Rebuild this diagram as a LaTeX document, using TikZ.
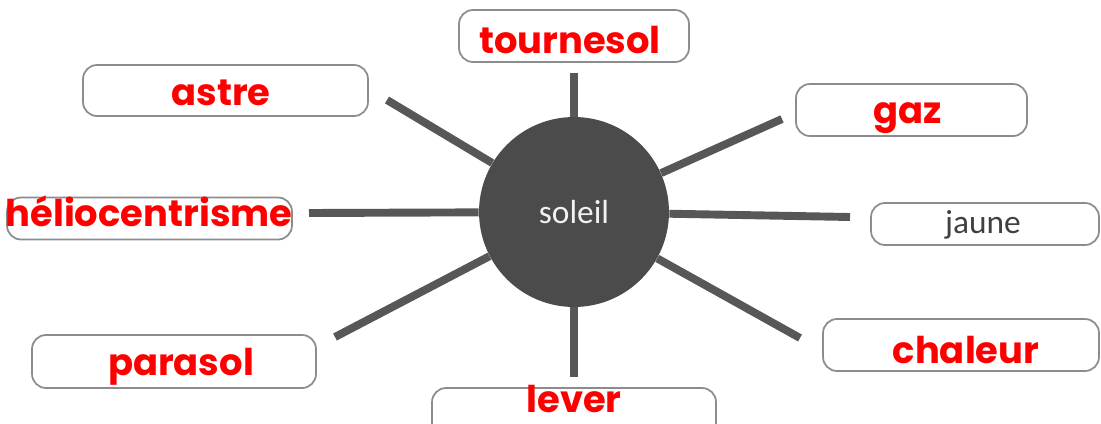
\documentclass[tikz,border=0pt]{standalone}
\usepackage{fontspec}
\newfontfamily\motfont{Poppins}
\newfontfamily\soleilfont{Carlito}
\definecolor{gris}{HTML}{4B4B4B}
\definecolor{trait}{HTML}{575757}
\begin{document}
\begin{tikzpicture}[x=0.02cm,y=-0.02cm,
    cadre/.style={draw=gray!90,rounded corners=0.28cm,line width=1pt,minimum height=1.04cm},
    mot/.style={text=red,font=\motfont\bfseries\fontsize{21}{21}\selectfont,anchor=base},
    rayon/.style={draw=trait,line width=4.5pt}]
      \useasboundingbox (0,0) rectangle (1101,423);
      \clip (0,0) rectangle (1101,423);

      \node[circle,fill=gris,minimum size=3.8cm,text=white!90!gray,font=\soleilfont\fontsize{19}{19}\selectfont] (soleil) at (574,212) {soleil};

      \node[cadre,minimum width=4.6cm] (tournesol) at (574,36) {};
      \node[cadre,minimum width=5.7cm,minimum height=1.02cm] (astre) at (225.5,90.5) {};
      \node[cadre,minimum width=4.62cm] (gaz) at (911.5,110) {};
      \node[cadre,minimum width=5.7cm,minimum height=0.84cm] (helio) at (149.5,218.5) {};
      \node[cadre,minimum width=4.56cm,minimum height=0.84cm] (jaune) at (985,224) {};
      \node[cadre,minimum width=5.68cm,minimum height=1.06cm] (parasol) at (174,361.5) {};
      \node[cadre,minimum width=5.52cm] (chaleur) at (961,345) {};
      \node[cadre,minimum width=5.68cm] (lever) at (574,414) {};

      \node[mot] (tournesol-t) at (570,53) {tournesol};
      \node[mot] (astre-t) at (221,105) {astre};
      \node[mot] (gaz-t) at (908,123) {gaz};
      \node[mot] (helio-t) at (149,226) {héliocentrisme};
      \node[anchor=base,text=black!75,font=\soleilfont\fontsize{19}{19}\selectfont] (jaune-t) at (983,233) {jaune};
      \node[mot] (parasol-t) at (181,375) {parasol};
      \node[mot] (chaleur-t) at (966,363) {chaleur};
      \node[mot] (lever-t) at (574,412) {lever};

      \coordinate (r1) at (574,73);
      \coordinate (r2) at (387,100);
      \coordinate (r3) at (782,119);
      \coordinate (r4) at (309,213);
      \coordinate (r5) at (850,217);
      \coordinate (r6) at (800,338);
      \coordinate (r7) at (574,377);
      \coordinate (r8) at (335,337);

      \foreach \r in {r1,r2,r3,r4,r5,r6,r7,r8}
        \draw[rayon] (soleil) -- (\r);
    \end{tikzpicture}
\end{document}
